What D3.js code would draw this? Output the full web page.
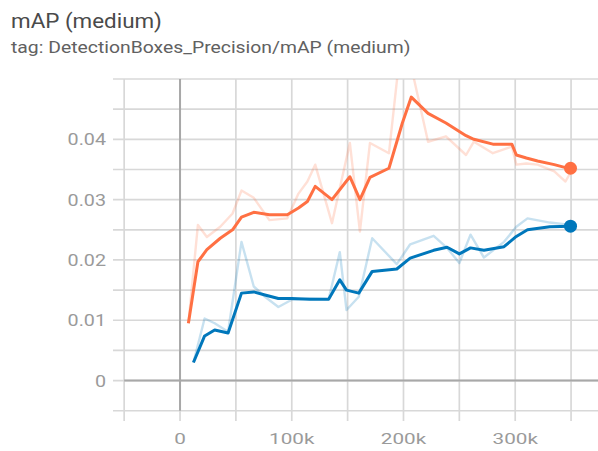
<!DOCTYPE html>
<html>
<head>
<meta charset="utf-8">
<script src="https://cdn.jsdelivr.net/npm/d3@7"></script>
<style>
  html, body { margin: 0; padding: 0; background: #fff; }
  svg { display: block; font-family: Roboto, "Noto Sans", sans-serif; }
</style>
</head>
<body>
<svg id="chart" width="598" height="451"></svg>
<script>
// Run 1 (orange): training steps (thousands), raw and smoothed values
const orangeSteps  = [7.5, 16, 24, 36, 47, 55, 66, 80, 96, 106, 114, 121, 136, 152, 161, 170, 187, 199, 207, 222, 238, 256, 263, 280, 297, 301, 310, 320, 335, 345, 349.5];
const orangeRaw    = [0.0095, 0.0258, 0.0238, 0.0255, 0.0277, 0.0315, 0.0303, 0.0266, 0.0269, 0.0310, 0.0330, 0.0358, 0.0261, 0.0394, 0.0247, 0.0394, 0.0377, 0.0580, 0.0520, 0.0396, 0.0405, 0.0374, 0.0396, 0.0377, 0.0388, 0.0358, 0.0360, 0.0358, 0.0347, 0.0330, 0.0345];
const orangeSmooth = [0.0095, 0.0197, 0.0217, 0.0236, 0.0250, 0.0271, 0.0279, 0.0275, 0.0275, 0.0286, 0.0297, 0.0322, 0.0300, 0.0338, 0.0300, 0.0337, 0.0352, 0.0427, 0.0470, 0.0443, 0.0427, 0.0406, 0.0400, 0.0392, 0.0392, 0.0374, 0.0369, 0.0364, 0.0358, 0.0353, 0.0352];

// Run 2 (blue)
const blueSteps  = [12, 22, 31, 43, 55, 66, 76, 88, 100, 116, 133, 143, 149, 160, 172, 194, 206, 227, 239, 250, 260, 272, 290, 301, 311, 331, 349.5];
const blueRaw    = [0.0030, 0.0103, 0.0095, 0.0081, 0.0230, 0.0156, 0.0139, 0.0122, 0.0134, 0.0136, 0.0135, 0.0213, 0.0117, 0.0139, 0.0236, 0.0193, 0.0226, 0.0240, 0.0220, 0.0195, 0.0242, 0.0204, 0.0230, 0.0255, 0.0269, 0.0262, 0.0258];
const blueSmooth = [0.0030, 0.0074, 0.0084, 0.0079, 0.0145, 0.0147, 0.0142, 0.0136, 0.0136, 0.0135, 0.0135, 0.0167, 0.0150, 0.0145, 0.0181, 0.0185, 0.0203, 0.0216, 0.0221, 0.0210, 0.0220, 0.0216, 0.0222, 0.0239, 0.0250, 0.0255, 0.0256];

// Axis ticks
const xGridTicks  = [-50, 0, 50, 100, 150, 200, 250, 300, 350];
const xLabelTicks = [0, 100, 200, 300];
const yGridTicks  = [-0.005, 0, 0.005, 0.01, 0.015, 0.02, 0.025, 0.03, 0.035, 0.04, 0.045, 0.05];
const yLabelTicks = [0, 0.01, 0.02, 0.03, 0.04];

const titleText    = "mAP (medium)";
const subtitleText = "tag: DetectionBoxes_Precision/mAP (medium)";

const ORANGE = "#ff7043";
const BLUE   = "#0077bb";

const svg = d3.select("#chart");

const plot = { left: 113, right: 599, top: 79, bottom: 421 };
const x = d3.scaleLinear().domain([-60, 375]).range([plot.left, plot.right]);
const y = d3.scaleLinear().domain([-0.0067, 0.05]).range([plot.bottom, plot.top]);

// Text with a slight horizontal stretch, anchored at (px, py)
function stretchedText(sel, px, py, sx) {
  return sel.attr("transform", `translate(${px},${py}) scale(${sx},1)`);
}

// Title block
stretchedText(svg.append("text"), 11, 28, 1.12)
  .attr("font-size", 20).attr("fill", "#4a4a4a").text(titleText);
stretchedText(svg.append("text"), 11, 53, 1.21)
  .attr("font-size", 16).attr("fill", "#616161").text(subtitleText);

// Grid
const grid = svg.append("g");
grid.selectAll("line.h").data(yGridTicks).join("line")
  .attr("x1", plot.left).attr("x2", 598)
  .attr("y1", d => y(d)).attr("y2", d => y(d))
  .attr("stroke", "#d8d8d8").attr("stroke-width", 1.7);
grid.selectAll("line.v").data(xGridTicks).join("line")
  .attr("x1", d => x(d)).attr("x2", d => x(d))
  .attr("y1", plot.top).attr("y2", plot.bottom)
  .attr("stroke", "#d8d8d8").attr("stroke-width", 1.7);

// Zero axes
svg.append("line")
  .attr("x1", x(-50)).attr("x2", 598).attr("y1", y(0)).attr("y2", y(0))
  .attr("stroke", "#a8a8a8").attr("stroke-width", 2);
svg.append("line")
  .attr("x1", x(0)).attr("x2", x(0)).attr("y1", plot.top).attr("y2", y(-0.005))
  .attr("stroke", "#a8a8a8").attr("stroke-width", 2);

// Tick labels
const fmtY = d => d === 0 ? "0" : d3.format(".2f")(d);
const fmtX = d => d === 0 ? "0" : d + "k";
yLabelTicks.forEach(d => {
  stretchedText(svg.append("text"), 106, y(d), 1.16)
    .attr("font-size", 17).attr("fill", "#9a9a9a")
    .attr("text-anchor", "end").attr("dy", "0.35em").text(fmtY(d));
});
xLabelTicks.forEach(d => {
  stretchedText(svg.append("text"), x(d), 444, 1.38)
    .attr("font-size", 15).attr("fill", "#9a9a9a")
    .attr("text-anchor", "middle").text(fmtX(d));
});

// Series
svg.append("clipPath").attr("id", "plotClip").append("rect")
  .attr("x", plot.left).attr("y", plot.top)
  .attr("width", plot.right - plot.left).attr("height", plot.bottom - plot.top);

const lines = svg.append("g").attr("clip-path", "url(#plotClip)");
const lineGen = d3.line().x(d => x(d[0])).y(d => y(d[1]));

const series = [
  { steps: orangeSteps, raw: orangeRaw, smooth: orangeSmooth, color: ORANGE },
  { steps: blueSteps,   raw: blueRaw,   smooth: blueSmooth,   color: BLUE }
];

series.forEach(s => {
  lines.append("path")
    .attr("d", lineGen(d3.zip(s.steps, s.raw)))
    .attr("fill", "none").attr("stroke", s.color)
    .attr("stroke-opacity", 0.22).attr("stroke-width", 2.4)
    .attr("stroke-linejoin", "round");
});
series.forEach(s => {
  lines.append("path")
    .attr("d", lineGen(d3.zip(s.steps, s.smooth)))
    .attr("fill", "none").attr("stroke", s.color)
    .attr("stroke-width", 3).attr("stroke-linejoin", "round");
});
series.forEach(s => {
  const n = s.steps.length - 1;
  svg.append("circle")
    .attr("cx", x(s.steps[n])).attr("cy", y(s.smooth[n]))
    .attr("r", 6.5).attr("fill", s.color);
});
</script>
</body>
</html>
